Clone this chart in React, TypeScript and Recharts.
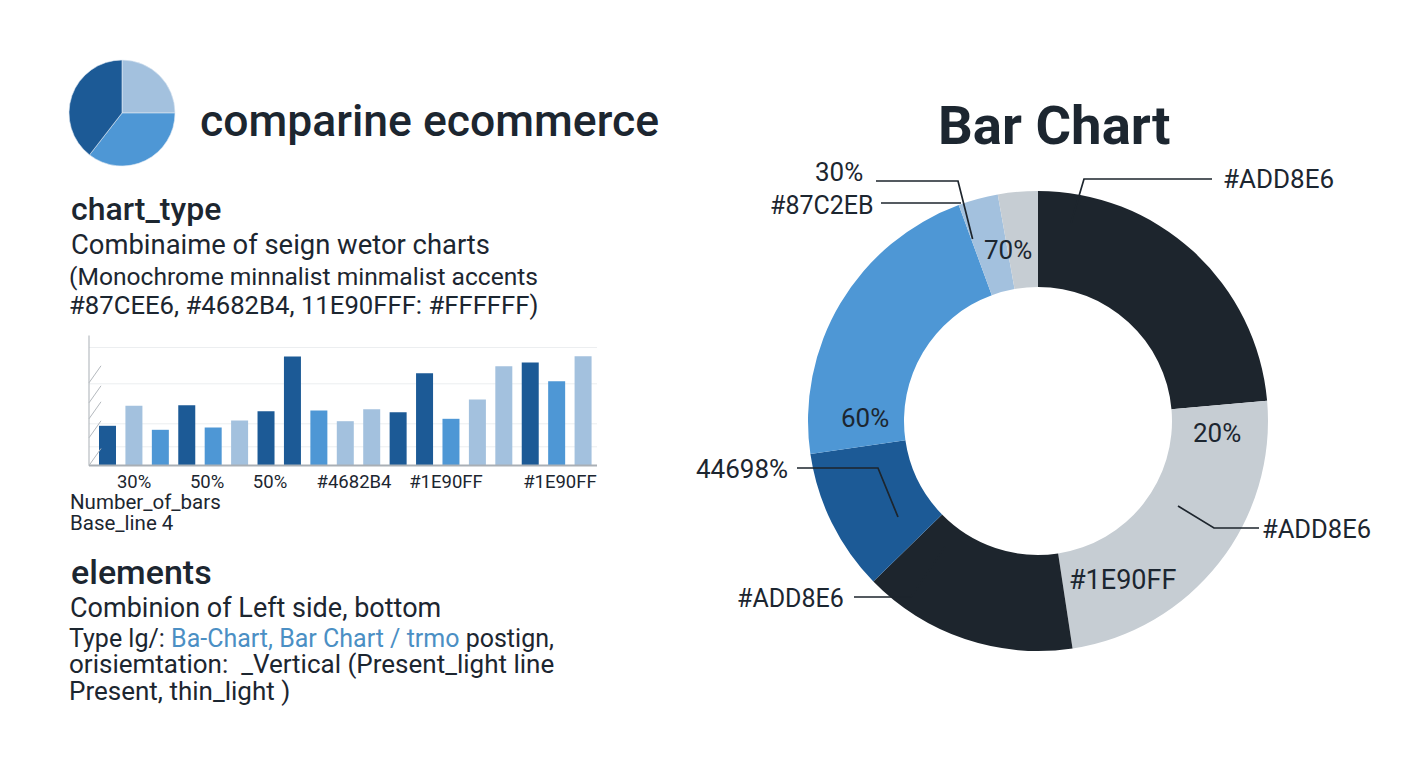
import React from 'react';
import { PieChart, Pie, Cell, BarChart, Bar, XAxis, YAxis, CartesianGrid } from 'recharts';

const DARK_BLUE = '#1c5a96';
const MID_BLUE = '#4e97d5';
const LIGHT_BLUE = '#a3c1de';
const INK = '#1d252d';
const GRAY = '#c6cdd3';
const TEXT = '#1c2630';

const ICON_NAMES = ['light', 'mid', 'dark'];
const ICON_VALUES = [25, 35.5, 39.5];
const ICON_COLORS = [LIGHT_BLUE, MID_BLUE, DARK_BLUE];

const BAR_CATEGORIES = ['b01', 'b02', 'b03', 'b04', 'b05', 'b06', 'b07', 'b08', 'b09', 'b10', 'b11', 'b12', 'b13', 'b14', 'b15', 'b16', 'b17', 'b18', 'b19'];
const BAR_VALUES = [39.7, 59.7, 35.7, 60.3, 38, 45, 54.3, 109, 55, 44.3, 56.3, 53.3, 92.3, 46.7, 66, 99.3, 103, 84.3, 109.3];
const BAR_COLORS = [
  DARK_BLUE, LIGHT_BLUE, MID_BLUE, DARK_BLUE, MID_BLUE, LIGHT_BLUE, DARK_BLUE, DARK_BLUE, MID_BLUE, LIGHT_BLUE,
  LIGHT_BLUE, DARK_BLUE, DARK_BLUE, MID_BLUE, LIGHT_BLUE, LIGHT_BLUE, DARK_BLUE, MID_BLUE, LIGHT_BLUE,
];
const TICK_SLOTS = ['b02', 'b05', 'b07', 'b10', 'b14', 'b18'];
const TICK_LABELS = ['30%', '50%', '50%', '#4682B4', '#1E90FF', '#1E90FF'];
const TICK_NUDGE = [0.5, -5.8, 4.3, 9, -4.7, 3.6];
const Y_TICKS = [0, 27.7, 46.7, 62.7, 82.7];
const GRID_VALUES = [18.7, 41.7, 81.7, 118];

const DONUT_NAMES = ['ink-a', 'gray-a', 'ink-b', 'dark', 'mid', 'light', 'gray-b'];
const DONUT_VALUES = [23.6, 24, 15.1, 10, 21.7, 2.8, 2.8];
const DONUT_COLORS = [INK, GRAY, INK, DARK_BLUE, MID_BLUE, LIGHT_BLUE, GRAY];

const iconRows = ICON_NAMES.map((name, i) => ({ name, value: ICON_VALUES[i] }));
const barRows = BAR_CATEGORIES.map((slot, i) => ({ slot, value: BAR_VALUES[i] }));
const donutRows = DONUT_NAMES.map((name, i) => ({ name, value: DONUT_VALUES[i] }));

function XTick({ x, y, payload }: any) {
  const i = TICK_SLOTS.indexOf(payload.value);
  if (i < 0) return null;
  return (
    <text x={x + TICK_NUDGE[i]} y={y + 14} textAnchor="middle" fontSize={18.5} fill={TEXT} fontFamily="Roboto">
      {TICK_LABELS[i]}
    </text>
  );
}

function YTick({ x, y }: any) {
  return <line x1={x} y1={y} x2={x + 12} y2={y - 17} stroke="#b4b9be" strokeWidth={1} />;
}

function T({ x, y, size = 26, weight = 400, color = TEXT, children }: any) {
  // y is the vertical middle of the line
  return (
    <div
      style={{
        position: 'absolute',
        left: x,
        top: y - size / 2,
        fontSize: size,
        lineHeight: `${size}px`,
        fontWeight: weight,
        color,
        whiteSpace: 'pre',
      }}
    >
      {children}
    </div>
  );
}

function Leader({ points, color = '#1d252d' }: { points: string; color?: string }) {
  return <polyline points={points} fill="none" stroke={color} strokeWidth={1.7} />;
}

export default function App() {
  return (
    <div
      style={{
        position: 'absolute',
        left: 0,
        top: 0,
        width: 1408,
        height: 768,
        background: '#fff',
        overflow: 'hidden',
        fontFamily: 'Roboto, sans-serif',
      }}
    >
      <div style={{ position: 'absolute', left: 60, top: 50 }}>
        <PieChart width={125} height={125} margin={{ top: 0, right: 0, bottom: 0, left: 0 }}>
          <Pie
            data={iconRows}
            dataKey="value"
            cx={62}
            cy={63}
            outerRadius={53}
            startAngle={90}
            endAngle={-270}
            stroke="#dfeaf4"
            strokeWidth={0.6}
            isAnimationActive={false}
          >
            {iconRows.map((r, i) => (
              <Cell key={r.name} fill={ICON_COLORS[i]} />
            ))}
          </Pie>
        </PieChart>
      </div>

      <T x={200} y={121} size={44.5} weight={500}>comparine ecommerce</T>
      <T x={938} y={125} size={54.5} weight={700}>Bar Chart</T>

      <T x={71} y={209} size={32} weight={500}>chart_type</T>
      <T x={71} y={246} size={27.4}>Combinaime of seign wetor charts</T>
      <T x={69} y={277} size={24.6}>(Monochrome minnalist minmalist accents</T>
      <T x={69} y={306} size={25.7}>#87CEE6, #4682B4, 11E90FFF: #FFFFFF)</T>

      <div style={{ position: 'absolute', left: 60, top: 330 }}>
        <BarChart
          width={560}
          height={170}
          data={barRows}
          margin={{ top: 5.5, right: 23, bottom: 4.5, left: 9 }}
          barCategoryGap={0}
        >
          <CartesianGrid vertical={false} horizontalValues={GRID_VALUES} stroke="#eceef0" />
          <XAxis
            dataKey="slot"
            height={30}
            interval={0}
            padding={{ left: 5, right: 1 }}
            tickLine={false}
            axisLine={{ stroke: '#a9afb5', strokeWidth: 2 }}
            tick={<XTick />}
          />
          <YAxis
            width={20}
            domain={[0, 130]}
            ticks={Y_TICKS}
            interval={0}
            tickSize={0}
            tickMargin={0}
            tickLine={false}
            axisLine={{ stroke: '#a9afb5', strokeWidth: 1 }}
            tick={<YTick />}
          />
          <Bar dataKey="value" barSize={17} isAnimationActive={false}>
            {barRows.map((r, i) => (
              <Cell key={r.slot} fill={BAR_COLORS[i]} />
            ))}
          </Bar>
        </BarChart>
      </div>

      <T x={70} y={502} size={20.5}>Number_of_bars</T>
      <T x={70} y={523} size={20.5}>Base_line 4</T>

      <T x={71} y={572} size={34} weight={500}>elements</T>
      <T x={70} y={608} size={27}>Combinion of Left side, bottom</T>
      <T x={69} y={638} size={25}>
        {'Type lg/: '}
        <span style={{ color: '#4b8fc4' }}>Ba-Chart, Bar Chart / trmo</span>
        {' postign,'}
      </T>
      <T x={69} y={664} size={26}>orisiemtation:  _Vertical (Present_light line</T>
      <T x={69} y={691} size={26}>Present, thin_light )</T>

      <div style={{ position: 'absolute', left: 780, top: 165 }}>
        <PieChart width={520} height={520} margin={{ top: 0, right: 0, bottom: 0, left: 0 }}>
          <Pie
            data={donutRows}
            dataKey="value"
            cx={258}
            cy={256}
            outerRadius={230}
            innerRadius={134}
            startAngle={90}
            endAngle={-270}
            stroke="none"
            isAnimationActive={false}
          >
            {donutRows.map((r, i) => (
              <Cell key={r.name} fill={DONUT_COLORS[i]} />
            ))}
          </Pie>
        </PieChart>
      </div>

      <svg width={1408} height={768} style={{ position: 'absolute', left: 0, top: 0 }}>
        <Leader points="876,181 958,181 972.6,239" />
        <Leader points="881,203 961,203" />
        <Leader points="1212,179 1084,179 1071,223" />
        <Leader points="797,468 878,468 898,517" />
        <Leader points="1259,528 1214,528 1178,506" />
        <Leader points="854,597 911,597 945,547" />
      </svg>

      <T x={815} y={172} size={26}>30%</T>
      <T x={770} y={205} size={25}>#87C2EB</T>
      <T x={984} y={250} size={26}>70%</T>
      <T x={1223} y={179} size={26}>#ADD8E6</T>
      <T x={1193} y={433} size={26}>20%</T>
      <T x={841} y={418} size={26}>60%</T>
      <T x={696} y={469} size={26}>44698%</T>
      <T x={1262} y={530} size={25.5}>#ADD8E6</T>
      <T x={1069} y={580} size={27}>#1E90FF</T>
      <T x={737} y={598} size={25}>#ADD8E6</T>
    </div>
  );
}
